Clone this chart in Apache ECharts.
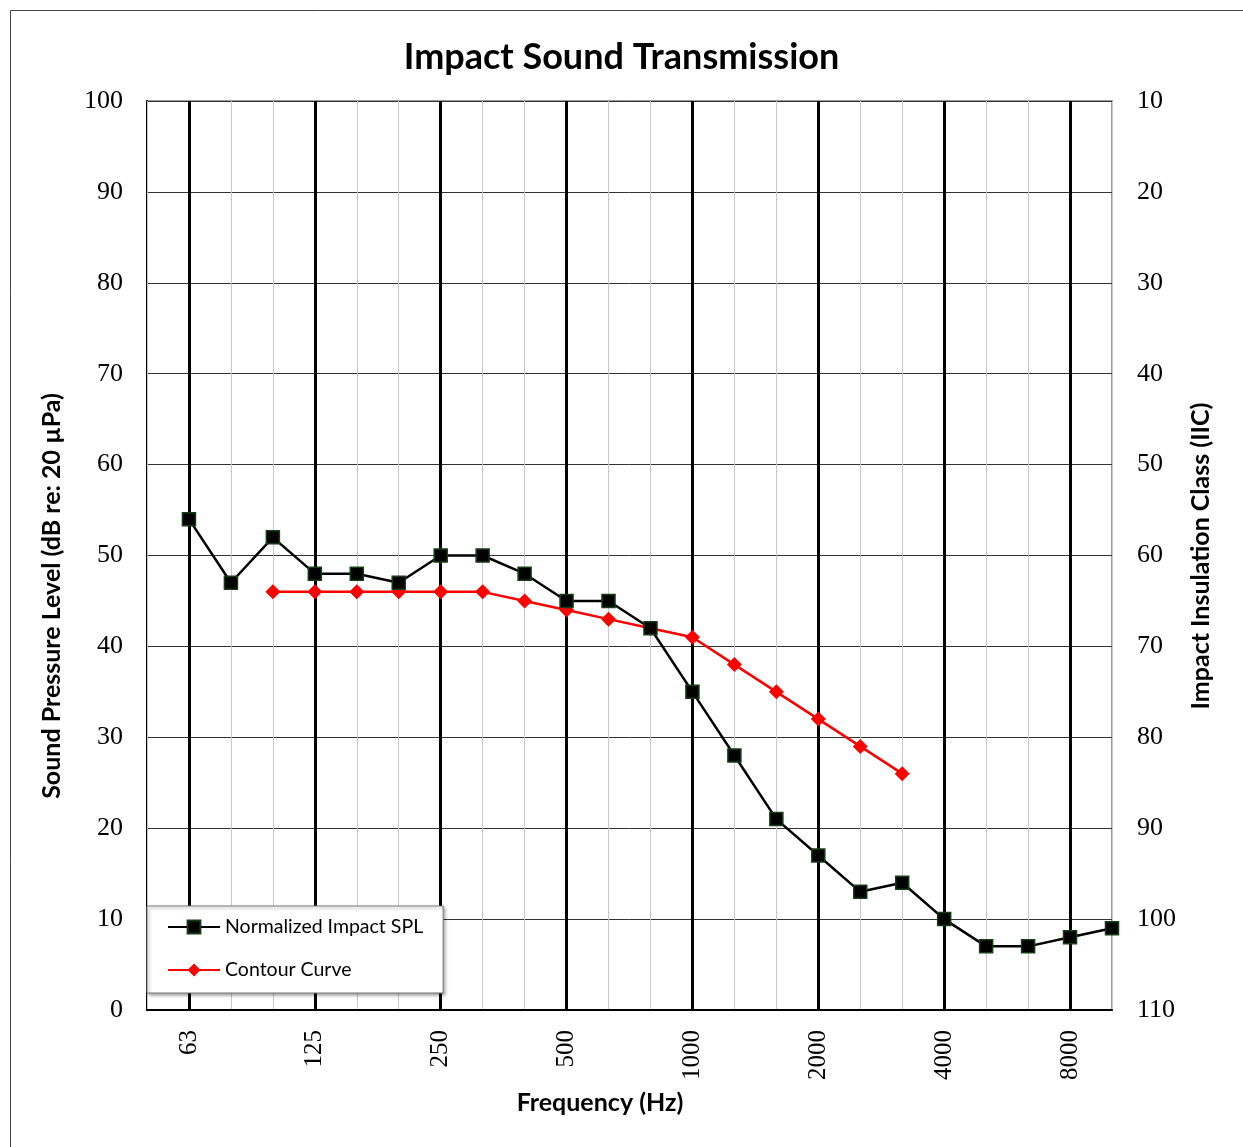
<!DOCTYPE html>
<html><head><meta charset="utf-8">
<script src="https://cdn.jsdelivr.net/npm/echarts@6/dist/echarts.min.js"></script>
<style>html,body{margin:0;padding:0;background:#fff}#c{width:1243px;height:1147px}</style>
</head><body><div id="c"></div>
<script>
const frequencies = ['50','63','80','100','125','160','200','250','315','400','500','630','800','1000','1250','1600','2000','2500','3150','4000','5000','6300','8000','10000'];
const octaveLabels = ['63','125','250','500','1000','2000','4000','8000'];
const normalizedSPL = [null,54,47,52,48,48,47,50,50,48,45,45,42,35,28,21,17,13,14,10,7,7,8,9];
const contourCurve = [null,null,null,46,46,46,46,46,46,45,44,43,42,41,38,35,32,29,26,null,null,null,null,null];
const leftTicks = {min:0,max:100,interval:10};
const rightTicks = {min:10,max:110,interval:10};

const chart = echarts.init(document.getElementById('c'));
const sans = 'Lato';
const serif = 'Liberation Serif';
const isOct = (i) => octaveLabels.indexOf(frequencies[i]) >= 0;
chart.setOption({
  animation:false,
  backgroundColor:'#fff',
  title:{text:'Impact Sound Transmission',left:'center',top:34,textStyle:{fontFamily:sans,fontWeight:'bold',fontSize:36,color:'#000'}},
  grid:{left:147,right:131,top:101,bottom:137,show:true,borderColor:'#999',borderWidth:2,backgroundColor:'#fff'},
  legend:{left:147,top:906,orient:'vertical',backgroundColor:'#fff',borderColor:'#777',borderWidth:1,
    padding:[11,20,13,20],itemGap:23,itemWidth:52,itemHeight:16,
    shadowColor:'rgba(0,0,0,0.35)',shadowBlur:3,shadowOffsetX:2,shadowOffsetY:2,
    textStyle:{fontFamily:sans,fontSize:19.5,color:'#000',padding:[0,62,0,0]},
    data:['Normalized Impact SPL','Contour Curve']},
  xAxis:[
    {type:'category',data:frequencies,boundaryGap:false,
     axisLine:{show:true,lineStyle:{color:'#000',width:2}},axisTick:{show:false},
     axisLabel:{interval:(i)=>isOct(i),rotate:90,margin:20,fontFamily:serif,fontSize:25,color:'#000'},
     splitLine:{show:true,interval:(i)=>isOct(i),lineStyle:{color:'#000',width:3}},z:3},
    {type:'category',data:frequencies,boundaryGap:false,position:'bottom',
     axisLine:{show:false},axisTick:{show:false},axisLabel:{show:false},
     splitLine:{show:true,interval:0,lineStyle:{color:'#c8c8c8',width:1}},z:1}
  ],
  yAxis:[
    {type:'value',min:leftTicks.min,max:leftTicks.max,interval:leftTicks.interval,position:'left',
     axisLine:{show:true,lineStyle:{color:'#000',width:2}},axisTick:{show:false},
     axisLabel:{margin:24,fontFamily:serif,fontSize:26,color:'#000'},
     splitLine:{show:true,lineStyle:{color:'#333',width:1}}},
    {type:'value',min:rightTicks.min,max:rightTicks.max,interval:rightTicks.interval,inverse:true,position:'right',
     axisLine:{show:false},axisTick:{show:false},
     axisLabel:{margin:25,fontFamily:serif,fontSize:26,color:'#000'},
     splitLine:{show:false}}
  ],
  series:[
    {name:'Normalized Impact SPL',type:'line',data:normalizedSPL,xAxisIndex:0,yAxisIndex:0,
     symbol:'rect',symbolSize:13,connectNulls:false,
     lineStyle:{color:'#000',width:2.5},
     itemStyle:{color:'#000',borderColor:'#143d14',borderWidth:1.5},z:5},
    {name:'Contour Curve',type:'line',data:contourCurve,xAxisIndex:0,yAxisIndex:0,
     symbol:'diamond',symbolSize:15,
     lineStyle:{color:'#ff0000',width:2.5},
     itemStyle:{color:'#ff0000'},z:4}
  ],
  graphic:[
    {type:'rect',left:8,top:8,shape:{width:1233,height:1137},style:{fill:null,stroke:'#444',lineWidth:1},silent:true,z:-1},
    {type:'text',x:52,y:596,rotation:Math.PI/2,style:{text:'Sound Pressure Level (dB re: 20 µPa)',fontFamily:sans,fontWeight:'bold',fontSize:25,fill:'#000',align:'center',verticalAlign:'middle'}},
    {type:'text',x:1201,y:556,rotation:Math.PI/2,style:{text:'Impact Insulation Class (IIC)',fontFamily:sans,fontWeight:'bold',fontSize:25,fill:'#000',align:'center',verticalAlign:'middle'}},
    {type:'text',x:600,y:1103,style:{text:'Frequency (Hz)',fontFamily:sans,fontWeight:'bold',fontSize:25,fill:'#000',align:'center',verticalAlign:'middle'}}
  ]
});
</script></body></html>
